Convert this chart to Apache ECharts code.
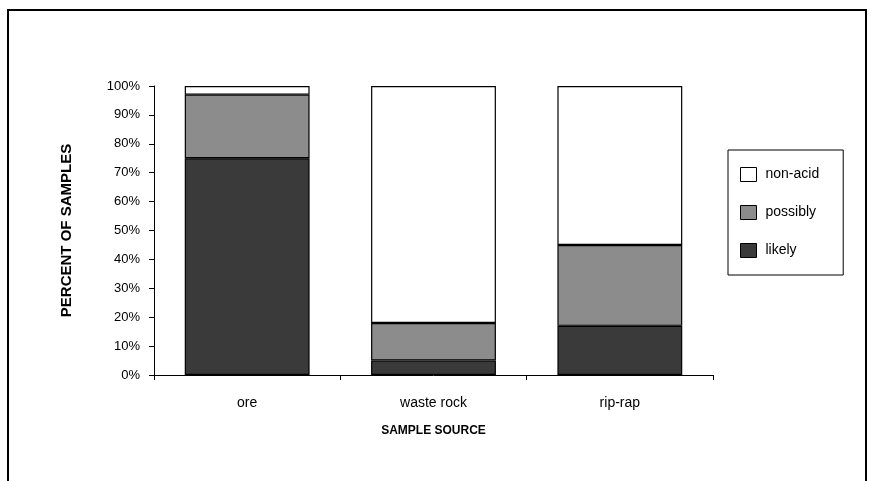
<!DOCTYPE html>
<html>
<head>
<meta charset="utf-8">
<script src="https://cdn.jsdelivr.net/npm/echarts@6/dist/echarts.min.js"></script>
<style>html,body{margin:0;padding:0;background:#fff}#c{width:873px;height:481px}</style>
</head>
<body>
<div id="c"></div>
<script>
const categories = ['ore', 'waste rock', 'rip-rap'];
const likely = [75, 5, 17];
const possibly = [22, 13, 28];
const nonAcid = [3, 82, 55];
const yTicks = [0, 10, 20, 30, 40, 50, 60, 70, 80, 90, 100];

const chart = echarts.init(document.getElementById('c'), null, {renderer: 'canvas'});
const font = 'Liberation Sans, Arial, sans-serif';
const bar = (name, data, color) => ({
  name, type: 'bar', stack: 'all', data, barWidth: '67%',
  itemStyle: {color, borderColor: '#000', borderWidth: 1.2},
  emphasis: {disabled: true}
});
chart.setOption({
  animation: false,
  backgroundColor: '#fff',
  textStyle: {fontFamily: font},
  grid: {left: 154, right: 160, top: 86, bottom: 106, containLabel: false},
  graphic: [{
    type: 'rect', shape: {x: 8, y: 10, width: 858, height: 480},
    style: {fill: 'none', stroke: '#000', lineWidth: 2}, silent: true
  }],
  legend: {
    orient: 'vertical', left: 728, top: 150,
    data: ['non-acid', 'possibly', 'likely'],
    itemWidth: 16, itemHeight: 14, itemGap: 23,
    padding: [17, 24, 17, 12],
    borderColor: '#000', borderWidth: 1,
    icon: 'rect',
    itemStyle: {borderColor: '#000', borderWidth: 1},
    textStyle: {fontFamily: font, fontSize: 14, color: '#000', padding: [0, 0, 0, 4]}
  },
  xAxis: {
    type: 'category', data: categories,
    name: 'SAMPLE SOURCE', nameLocation: 'middle', nameGap: 50,
    nameTextStyle: {fontFamily: font, fontSize: 12, fontWeight: 'bold', color: '#000'},
    axisLine: {lineStyle: {color: '#000', width: 1}},
    axisTick: {show: true, length: 5, lineStyle: {color: '#000'}},
    axisLabel: {fontFamily: font, fontSize: 14, color: '#000', margin: 21}
  },
  yAxis: {
    type: 'value', min: 0, max: 100, interval: 10,
    name: 'PERCENT OF SAMPLES', nameLocation: 'middle', nameGap: 80, nameRotate: 90,
    nameTextStyle: {fontFamily: font, fontSize: 15, fontWeight: 'bold', color: '#000'},
    axisLine: {show: true, lineStyle: {color: '#000', width: 1}},
    axisTick: {show: true, length: 5, lineStyle: {color: '#000'}},
    splitLine: {show: false},
    axisLabel: {
      fontFamily: font, fontSize: 13, color: '#000', margin: 14,
      formatter: v => (yTicks.includes(v) ? v + '%' : '')
    }
  },
  series: [
    bar('likely', likely, '#3a3a3a'),
    bar('possibly', possibly, '#8c8c8c'),
    bar('non-acid', nonAcid, '#ffffff')
  ]
});
</script>
</body>
</html>
